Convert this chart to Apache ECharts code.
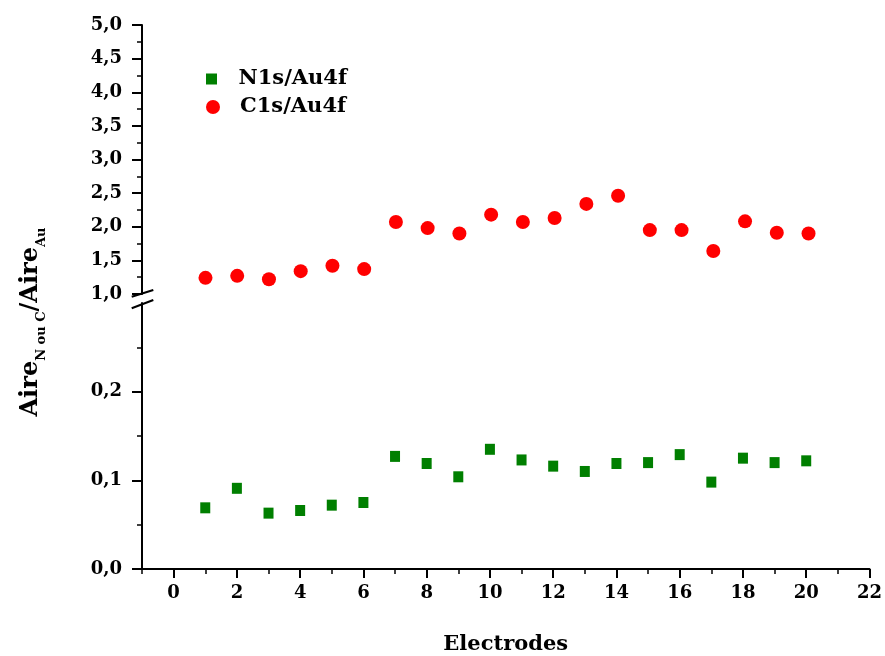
<!DOCTYPE html>
<html>
<head>
<meta charset="utf-8">
<script src="https://cdn.jsdelivr.net/npm/echarts@6/dist/echarts.min.js"></script>
<style>html,body{margin:0;padding:0;background:#fff}#c{width:885px;height:656px}</style>
</head>
<body>
<div id="c"></div>
<script>
// ---- data ----
const electrodes = [1,2,3,4,5,6,7,8,9,10,11,12,13,14,15,16,17,18,19,20];
const c1sAu4f = [1.24,1.27,1.22,1.34,1.42,1.37,2.07,1.98,1.90,2.18,2.07,2.13,2.34,2.46,1.95,1.95,1.64,2.08,1.91,1.90];
const n1sAu4f = [0.069,0.091,0.063,0.066,0.072,0.075,0.127,0.119,0.104,0.135,0.123,0.116,0.110,0.119,0.120,0.129,0.098,0.125,0.120,0.122];
const xMajorTicks = [0,2,4,6,8,10,12,14,16,18,20,22];
const xMinorTicks = [-1,1,3,5,7,9,11,13,15,17,19,21];
const yLowerTicks = [0,0.1,0.2];

const FONT = 'DejaVu Serif';
const L = 142, R = 13, upTop = 25, upBot = 294, lowTop = 303, lowBot = 570, H = 656;

const chart = echarts.init(document.getElementById('c'));
const fmt = v => v.toFixed(1).replace('.', ',');
const labelStyle = {color:'#000', fontFamily:FONT, fontWeight:'bold', fontSize:18};

chart.setOption({
  animation:false,
  backgroundColor:'#fff',
  grid:[
    {left:L, right:R, top:upTop, bottom:H-upBot},
    {left:L, right:R, top:lowTop, bottom:H-lowBot}
  ],
  xAxis:[
    {gridIndex:0, type:'value', min:-1, max:22, show:false},
    {gridIndex:1, type:'value', min:-1, max:22,
      axisLine:{show:true, onZero:false, lineStyle:{color:'#000', width:2}},
      axisTick:{show:true, length:9, lineStyle:{color:'#000', width:2}, customValues:xMajorTicks},
      axisLabel:{...labelStyle, margin:15, customValues:xMajorTicks, formatter:v=>String(v)},
      splitLine:{show:false},
      name:'Electrodes', nameLocation:'middle', nameGap:65,
      nameTextStyle:{color:'#000', fontFamily:FONT, fontWeight:'bold', fontSize:21}
    },
    {gridIndex:1, type:'value', min:-1, max:22, position:'bottom',
      axisLine:{show:false, onZero:false},
      axisTick:{show:true, length:5, lineStyle:{color:'#000', width:1.5}, customValues:xMinorTicks},
      axisLabel:{show:false},
      splitLine:{show:false}
    }
  ],
  yAxis:[
    {gridIndex:0, type:'value', min:1, max:5, interval:0.5,
      axisLine:{show:true, onZero:false, lineStyle:{color:'#000', width:2}},
      axisTick:{show:true, length:10, lineStyle:{color:'#000', width:2}},
      minorTick:{show:true, splitNumber:2, length:5, lineStyle:{color:'#000', width:1.5}},
      axisLabel:{...labelStyle, margin:20, formatter:fmt},
      splitLine:{show:false}
    },
    {gridIndex:1, type:'value', min:0, max:0.3, interval:0.1,
      axisLine:{show:true, onZero:false, lineStyle:{color:'#000', width:2}},
      axisTick:{show:true, length:10, lineStyle:{color:'#000', width:2}, customValues:yLowerTicks},
      minorTick:{show:true, splitNumber:2, length:5, lineStyle:{color:'#000', width:1.5}},
      axisLabel:{...labelStyle, margin:20, customValues:yLowerTicks, formatter:fmt},
      splitLine:{show:false}
    }
  ],
  legend:[
    {data:['N1s/Au4f'], orient:'vertical', left:201, top:63, itemWidth:44, itemHeight:11,
      icon:'path://M0,0H1V1H0Z',
      textStyle:{color:'#000', fontFamily:FONT, fontWeight:'bold', fontSize:21, lineHeight:22}},
    {data:['C1s/Au4f'], orient:'vertical', left:201, top:91, itemWidth:44, itemHeight:14,
      icon:'circle',
      textStyle:{color:'#000', fontFamily:FONT, fontWeight:'bold', fontSize:21, lineHeight:22}}
  ],
  series:[
    {name:'N1s/Au4f', type:'scatter', xAxisIndex:1, yAxisIndex:1, symbol:'rect', symbolSize:[10,11],
      itemStyle:{color:'#007f00', opacity:1}, data:electrodes.map((x,i)=>[x, n1sAu4f[i]])},
    {name:'C1s/Au4f', type:'scatter', xAxisIndex:0, yAxisIndex:0, symbol:'circle', symbolSize:14,
      itemStyle:{color:'#ff0000', opacity:1}, data:electrodes.map((x,i)=>[x, c1sAu4f[i]])}
  ],
  graphic:[
    {type:'rect', shape:{x:L-3, y:upBot+1, width:6, height:lowTop-upBot-2}, style:{fill:'#fff'}, z:100},
    {type:'line', shape:{x1:131.7, y1:296.7, x2:153.3, y2:290}, style:{stroke:'#000', lineWidth:2}, z:101},
    {type:'line', shape:{x1:131.7, y1:308.3, x2:153.3, y2:300}, style:{stroke:'#000', lineWidth:2}, z:101},
    {type:'text', x:31, y:322, rotation:Math.PI/2,
      style:{
        text:'{b|Aire}{s|N ou C}{b|/Aire}{s|Au}',
        align:'center', verticalAlign:'middle',
        rich:{
          b:{fontFamily:FONT, fontWeight:'bold', fontSize:24, lineHeight:26, fill:'#000'},
          s:{fontFamily:FONT, fontWeight:'bold', fontSize:13, lineHeight:35, verticalAlign:'bottom', fill:'#000'}
        }
      }, z:100}
  ]
});
</script>
</body>
</html>
